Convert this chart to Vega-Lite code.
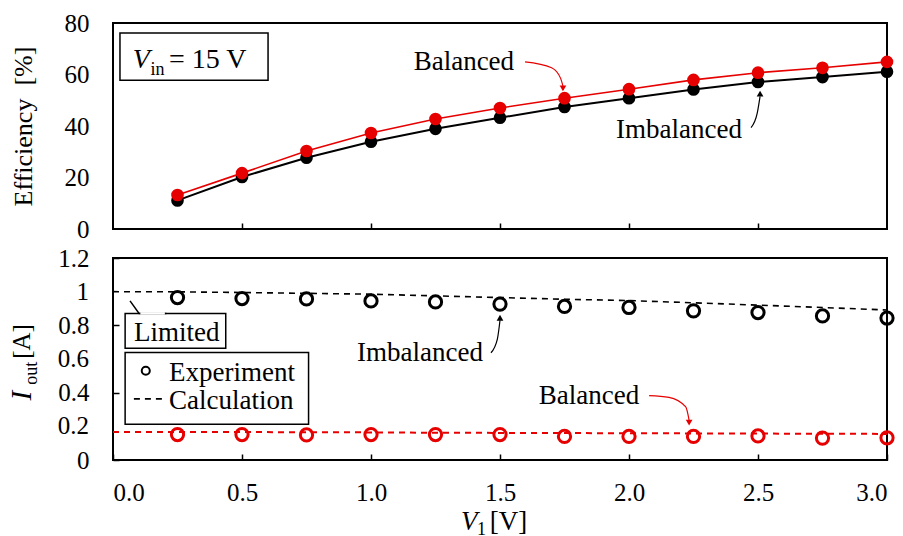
{
  "$schema": "https://vega.github.io/schema/vega-lite/v6.json",
  "padding": {"top": 10, "left": 6, "right": 5, "bottom": 0},
  "spacing": 2,
  "config": {
    "font": "Liberation Serif",
    "view": {"stroke": "black", "strokeWidth": 2},
    "axis": {
      "domain": false,
      "grid": false,
      "tickColor": "black",
      "tickSize": -6,
      "tickWidth": 1.5,
      "labelFont": "Liberation Serif",
      "labelFontSize": 25,
      "labelColor": "black",
      "labelOverlap": false,
      "titleFont": "Liberation Serif",
      "titleFontSize": 26,
      "titleFontWeight": "normal",
      "titleColor": "black"
    },
    "text": {"font": "Liberation Serif", "color": "black"}
  },
  "datasets": {
    "one": [{}],
    "eff": [
      {"v1": 0.25, "type": "Balanced", "eff": 13.2},
      {"v1": 0.5, "type": "Balanced", "eff": 21.7},
      {"v1": 0.75, "type": "Balanced", "eff": 30.3},
      {"v1": 1.0, "type": "Balanced", "eff": 37.3},
      {"v1": 1.25, "type": "Balanced", "eff": 42.7},
      {"v1": 1.5, "type": "Balanced", "eff": 47.0},
      {"v1": 1.75, "type": "Balanced", "eff": 50.8},
      {"v1": 2.0, "type": "Balanced", "eff": 54.3},
      {"v1": 2.25, "type": "Balanced", "eff": 57.9},
      {"v1": 2.5, "type": "Balanced", "eff": 60.7},
      {"v1": 2.75, "type": "Balanced", "eff": 62.6},
      {"v1": 3.0, "type": "Balanced", "eff": 64.9},
      {"v1": 0.25, "type": "Imbalanced", "eff": 11.1},
      {"v1": 0.5, "type": "Imbalanced", "eff": 20.2},
      {"v1": 0.75, "type": "Imbalanced", "eff": 27.7},
      {"v1": 1.0, "type": "Imbalanced", "eff": 33.9},
      {"v1": 1.25, "type": "Imbalanced", "eff": 38.9},
      {"v1": 1.5, "type": "Imbalanced", "eff": 43.2},
      {"v1": 1.75, "type": "Imbalanced", "eff": 47.4},
      {"v1": 2.0, "type": "Imbalanced", "eff": 50.8},
      {"v1": 2.25, "type": "Imbalanced", "eff": 54.2},
      {"v1": 2.5, "type": "Imbalanced", "eff": 57.1},
      {"v1": 2.75, "type": "Imbalanced", "eff": 59.0},
      {"v1": 3.0, "type": "Imbalanced", "eff": 61.1}
    ],
    "iexp": [
      {"v1": 0.25, "type": "Imbalanced", "iout": 0.965},
      {"v1": 0.5, "type": "Imbalanced", "iout": 0.959},
      {"v1": 0.75, "type": "Imbalanced", "iout": 0.957},
      {"v1": 1.0, "type": "Imbalanced", "iout": 0.945},
      {"v1": 1.25, "type": "Imbalanced", "iout": 0.939},
      {"v1": 1.5, "type": "Imbalanced", "iout": 0.926},
      {"v1": 1.75, "type": "Imbalanced", "iout": 0.912},
      {"v1": 2.0, "type": "Imbalanced", "iout": 0.906},
      {"v1": 2.25, "type": "Imbalanced", "iout": 0.886},
      {"v1": 2.5, "type": "Imbalanced", "iout": 0.876},
      {"v1": 2.75, "type": "Imbalanced", "iout": 0.856},
      {"v1": 3.0, "type": "Imbalanced", "iout": 0.843},
      {"v1": 0.25, "type": "Balanced", "iout": 0.151},
      {"v1": 0.5, "type": "Balanced", "iout": 0.151},
      {"v1": 0.75, "type": "Balanced", "iout": 0.149},
      {"v1": 1.0, "type": "Balanced", "iout": 0.151},
      {"v1": 1.25, "type": "Balanced", "iout": 0.151},
      {"v1": 1.5, "type": "Balanced", "iout": 0.151},
      {"v1": 1.75, "type": "Balanced", "iout": 0.140},
      {"v1": 2.0, "type": "Balanced", "iout": 0.140},
      {"v1": 2.25, "type": "Balanced", "iout": 0.140},
      {"v1": 2.5, "type": "Balanced", "iout": 0.143},
      {"v1": 2.75, "type": "Balanced", "iout": 0.130},
      {"v1": 3.0, "type": "Balanced", "iout": 0.132}
    ],
    "icalc": [
      {"v1": 0.0, "type": "Imbalanced", "iout": 1.0},
      {"v1": 0.25, "type": "Imbalanced", "iout": 0.999},
      {"v1": 0.5, "type": "Imbalanced", "iout": 0.995},
      {"v1": 0.75, "type": "Imbalanced", "iout": 0.99},
      {"v1": 1.0, "type": "Imbalanced", "iout": 0.985},
      {"v1": 1.25, "type": "Imbalanced", "iout": 0.975},
      {"v1": 1.5, "type": "Imbalanced", "iout": 0.965},
      {"v1": 1.75, "type": "Imbalanced", "iout": 0.955},
      {"v1": 2.0, "type": "Imbalanced", "iout": 0.947},
      {"v1": 2.25, "type": "Imbalanced", "iout": 0.934},
      {"v1": 2.5, "type": "Imbalanced", "iout": 0.92},
      {"v1": 2.75, "type": "Imbalanced", "iout": 0.906},
      {"v1": 3.0, "type": "Imbalanced", "iout": 0.891},
      {"v1": 0.0, "type": "Balanced", "iout": 0.167},
      {"v1": 0.25, "type": "Balanced", "iout": 0.167},
      {"v1": 0.5, "type": "Balanced", "iout": 0.166},
      {"v1": 0.75, "type": "Balanced", "iout": 0.165},
      {"v1": 1.0, "type": "Balanced", "iout": 0.164},
      {"v1": 1.25, "type": "Balanced", "iout": 0.162},
      {"v1": 1.5, "type": "Balanced", "iout": 0.161},
      {"v1": 1.75, "type": "Balanced", "iout": 0.16},
      {"v1": 2.0, "type": "Balanced", "iout": 0.159},
      {"v1": 2.25, "type": "Balanced", "iout": 0.158},
      {"v1": 2.5, "type": "Balanced", "iout": 0.157},
      {"v1": 2.75, "type": "Balanced", "iout": 0.156},
      {"v1": 3.0, "type": "Balanced", "iout": 0.155}
    ],
    "ylabExtra": [{"v": 0.2, "t": "0.2"}, {"v": 0.6, "t": "0.6"}, {"v": 1.0, "t": "1"}],
    "arrowTopBal": [{"x": 1.597, "y": 64.9}, {"x": 1.70, "y": 62.6}, {"x": 1.735, "y": 58.5}, {"x": 1.744, "y": 55.5}],
    "arrowTopImb": [{"x": 2.473, "y": 39.4}, {"x": 2.497, "y": 45.0}, {"x": 2.508, "y": 51.5}],
    "arrowBotImb": [{"x": 1.465, "y": 0.637}, {"x": 1.49, "y": 0.72}, {"x": 1.5, "y": 0.83}],
    "arrowBotBal": [{"x": 2.078, "y": 0.382}, {"x": 2.155, "y": 0.372}, {"x": 2.22, "y": 0.315}, {"x": 2.233, "y": 0.235}],
    "limitedTail": [{"x": 0.101, "y": 0.871}, {"x": 0.066, "y": 0.945}, {"x": 0.207, "y": 0.871}],
    "legendDash": [{"x": 0.081, "y": 0.363}, {"x": 0.19, "y": 0.363}]
  },
  "vconcat": [
    {
      "width": 774,
      "height": 206,
      "data": {"name": "one"},
      "layer": [
        {
          "data": {"name": "eff"},
          "transform": [{"filter": "datum.type === 'Imbalanced'"}],
          "mark": {"type": "line", "color": "black", "strokeWidth": 2, "point": {"filled": true, "size": 160, "color": "black"}},
          "encoding": {
            "x": {"field": "v1", "type": "quantitative", "scale": {"domain": [0, 3], "nice": false},
              "axis": {"values": [0.5, 1, 1.5, 2, 2.5], "labels": false, "title": null}},
            "y": {"field": "eff", "type": "quantitative", "scale": {"domain": [0, 80], "nice": false},
              "axis": {"values": [0, 20, 40, 60, 80], "title": "Efficiency\u00a0\u00a0[%]", "ticks": false, "labelOverlap": false, "labelPadding": 24, "titlePadding": 28}}
          }
        },
        {
          "data": {"name": "eff"},
          "transform": [{"filter": "datum.type === 'Balanced'"}],
          "mark": {"type": "line", "color": "#e60000", "strokeWidth": 1.6, "point": {"filled": true, "size": 160, "color": "#e60000"}},
          "encoding": {
            "x": {"field": "v1", "type": "quantitative"},
            "y": {"field": "eff", "type": "quantitative"}
          }
        },
        {
          "mark": {"type": "rect", "fill": "white", "stroke": "black", "strokeWidth": 1.5},
          "encoding": {
            "x": {"datum": 0.027, "type": "quantitative"},
            "x2": {"datum": 0.601},
            "y": {"datum": 76.1, "type": "quantitative"},
            "y2": {"datum": 57.8}
          }
        },
        {
          "mark": {"type": "text", "text": "V", "font": "Liberation Serif", "fontStyle": "italic", "fontSize": 28, "align": "left", "baseline": "alphabetic"},
          "encoding": {"x": {"datum": 0.077, "type": "quantitative"}, "y": {"datum": 62.6, "type": "quantitative"}}
        },
        {
          "mark": {"type": "text", "text": "in", "font": "Liberation Serif", "fontSize": 18, "align": "left", "baseline": "alphabetic"},
          "encoding": {"x": {"datum": 0.145, "type": "quantitative"}, "y": {"datum": 60.0, "type": "quantitative"}}
        },
        {
          "mark": {"type": "text", "text": "= 15 V", "font": "Liberation Serif", "fontSize": 28, "align": "left", "baseline": "alphabetic"},
          "encoding": {"x": {"datum": 0.217, "type": "quantitative"}, "y": {"datum": 62.6, "type": "quantitative"}}
        },
        {
          "mark": {"type": "text", "text": "Balanced", "font": "Liberation Serif", "fontSize": 27, "align": "center", "baseline": "alphabetic"},
          "encoding": {"x": {"datum": 1.36, "type": "quantitative"}, "y": {"datum": 61.7, "type": "quantitative"}}
        },
        {
          "mark": {"type": "text", "text": "Imbalanced", "font": "Liberation Serif", "fontSize": 27, "align": "center", "baseline": "alphabetic"},
          "encoding": {"x": {"datum": 2.194, "type": "quantitative"}, "y": {"datum": 35.5, "type": "quantitative"}}
        },
        {
          "data": {"name": "arrowTopBal"},
          "mark": {"type": "line", "color": "#e60000", "strokeWidth": 1.2, "interpolate": "monotone"},
          "encoding": {"x": {"field": "x", "type": "quantitative"}, "y": {"field": "y", "type": "quantitative"}, "order": {"field": "x"}}
        },
        {
          "mark": {"type": "point", "shape": "triangle-down", "filled": true, "color": "#e60000", "size": 45, "opacity": 1},
          "encoding": {"x": {"datum": 1.744, "type": "quantitative"}, "y": {"datum": 54.6, "type": "quantitative"}}
        },
        {
          "data": {"name": "arrowTopImb"},
          "mark": {"type": "line", "color": "black", "strokeWidth": 1.2, "interpolate": "monotone"},
          "encoding": {"x": {"field": "x", "type": "quantitative"}, "y": {"field": "y", "type": "quantitative"}, "order": {"field": "y"}}
        },
        {
          "mark": {"type": "point", "shape": "triangle-up", "filled": true, "color": "black", "size": 45, "opacity": 1},
          "encoding": {"x": {"datum": 2.508, "type": "quantitative"}, "y": {"datum": 52.6, "type": "quantitative"}}
        }
      ]
    },
    {
      "width": 774,
      "height": 202,
      "data": {"name": "one"},
      "layer": [
        {
          "data": {"name": "icalc"},
          "transform": [{"filter": "datum.type === 'Imbalanced'"}],
          "mark": {"type": "line", "color": "black", "strokeWidth": 1.6, "strokeDash": [6, 5]},
          "encoding": {
            "x": {"field": "v1", "type": "quantitative", "scale": {"domain": [0, 3], "nice": false},
              "axis": {"values": [0, 0.5, 1, 1.5, 2, 2.5, 3], "format": ".1f", "title": null, "labelOverlap": false, "labelPadding": 26}},
            "y": {"field": "iout", "type": "quantitative", "scale": {"domain": [0, 1.2], "nice": false},
              "axis": {"values": [0, 0.2, 0.4, 0.6, 0.8, 1, 1.2], "format": "~g", "title": null, "labelOverlap": false, "labelPadding": 30}}
          }
        },
        {
          "data": {"name": "ylabExtra"},
          "mark": {"type": "text", "font": "Liberation Serif", "fontSize": 25, "align": "right", "baseline": "middle"},
          "encoding": {
            "x": {"datum": -0.093, "type": "quantitative"},
            "y": {"field": "v", "type": "quantitative"},
            "text": {"field": "t"}
          }
        },
        {
          "data": {"name": "icalc"},
          "transform": [{"filter": "datum.type === 'Balanced'"}],
          "mark": {"type": "line", "color": "#e60000", "strokeWidth": 2, "strokeDash": [6, 5]},
          "encoding": {
            "x": {"field": "v1", "type": "quantitative"},
            "y": {"field": "iout", "type": "quantitative"}
          }
        },
        {
          "data": {"name": "iexp"},
          "mark": {"type": "point", "filled": false, "size": 150, "strokeWidth": 3, "opacity": 1},
          "encoding": {
            "x": {"field": "v1", "type": "quantitative"},
            "y": {"field": "iout", "type": "quantitative"},
            "color": {"field": "type", "type": "nominal", "scale": {"domain": ["Imbalanced", "Balanced"], "range": ["black", "#e60000"]}, "legend": null}
          }
        },
        {
          "mark": {"type": "rect", "fill": "white", "stroke": "black", "strokeWidth": 1.5},
          "encoding": {
            "x": {"datum": 0.047, "type": "quantitative"},
            "x2": {"datum": 0.437},
            "y": {"datum": 0.871, "type": "quantitative"},
            "y2": {"datum": 0.664}
          }
        },
        {
          "data": {"name": "limitedTail"},
          "mark": {"type": "line", "color": "black", "strokeWidth": 1.5},
          "encoding": {"x": {"field": "x", "type": "quantitative"}, "y": {"field": "y", "type": "quantitative"}, "order": {"field": "y", "sort": "descending"}}
        },
        {
          "mark": {"type": "rule", "color": "white", "strokeWidth": 2.5},
          "encoding": {
            "x": {"datum": 0.106, "type": "quantitative"},
            "x2": {"datum": 0.201},
            "y": {"datum": 0.871, "type": "quantitative"}
          }
        },
        {
          "mark": {"type": "text", "text": "Limited", "font": "Liberation Serif", "fontSize": 27, "align": "left", "baseline": "alphabetic"},
          "encoding": {"x": {"datum": 0.081, "type": "quantitative"}, "y": {"datum": 0.708, "type": "quantitative"}}
        },
        {
          "mark": {"type": "rect", "fill": "white", "stroke": "black", "strokeWidth": 1.5},
          "encoding": {
            "x": {"datum": 0.047, "type": "quantitative"},
            "x2": {"datum": 0.758},
            "y": {"datum": 0.639, "type": "quantitative"},
            "y2": {"datum": 0.213}
          }
        },
        {
          "mark": {"type": "point", "filled": false, "color": "black", "size": 65, "strokeWidth": 2, "opacity": 1},
          "encoding": {"x": {"datum": 0.127, "type": "quantitative"}, "y": {"datum": 0.53, "type": "quantitative"}}
        },
        {
          "data": {"name": "legendDash"},
          "mark": {"type": "line", "color": "black", "strokeWidth": 1.6, "strokeDash": [6, 5]},
          "encoding": {"x": {"field": "x", "type": "quantitative"}, "y": {"field": "y", "type": "quantitative"}}
        },
        {
          "mark": {"type": "text", "text": "Experiment", "font": "Liberation Serif", "fontSize": 27, "align": "left", "baseline": "alphabetic"},
          "encoding": {"x": {"datum": 0.217, "type": "quantitative"}, "y": {"datum": 0.471, "type": "quantitative"}}
        },
        {
          "mark": {"type": "text", "text": "Calculation", "font": "Liberation Serif", "fontSize": 27, "align": "left", "baseline": "alphabetic"},
          "encoding": {"x": {"datum": 0.217, "type": "quantitative"}, "y": {"datum": 0.303, "type": "quantitative"}}
        },
        {
          "mark": {"type": "text", "text": "Imbalanced", "font": "Liberation Serif", "fontSize": 27, "align": "center", "baseline": "alphabetic"},
          "encoding": {"x": {"datum": 1.19, "type": "quantitative"}, "y": {"datum": 0.59, "type": "quantitative"}}
        },
        {
          "mark": {"type": "text", "text": "Balanced", "font": "Liberation Serif", "fontSize": 27, "align": "center", "baseline": "alphabetic"},
          "encoding": {"x": {"datum": 1.845, "type": "quantitative"}, "y": {"datum": 0.333, "type": "quantitative"}}
        },
        {
          "data": {"name": "arrowBotImb"},
          "mark": {"type": "line", "color": "black", "strokeWidth": 1.2, "interpolate": "monotone"},
          "encoding": {"x": {"field": "x", "type": "quantitative"}, "y": {"field": "y", "type": "quantitative"}, "order": {"field": "y"}}
        },
        {
          "mark": {"type": "point", "shape": "triangle-up", "filled": true, "color": "black", "size": 45, "opacity": 1},
          "encoding": {"x": {"datum": 1.5, "type": "quantitative"}, "y": {"datum": 0.845, "type": "quantitative"}}
        },
        {
          "data": {"name": "arrowBotBal"},
          "mark": {"type": "line", "color": "#e60000", "strokeWidth": 1.2, "interpolate": "monotone"},
          "encoding": {"x": {"field": "x", "type": "quantitative"}, "y": {"field": "y", "type": "quantitative"}, "order": {"field": "x"}}
        },
        {
          "mark": {"type": "point", "shape": "triangle-down", "filled": true, "color": "#e60000", "size": 45, "opacity": 1},
          "encoding": {"x": {"datum": 2.233, "type": "quantitative"}, "y": {"datum": 0.222, "type": "quantitative"}}
        },
        {
          "mark": {"type": "text", "text": "I", "font": "Liberation Serif", "fontStyle": "italic", "fontSize": 29, "angle": 270, "align": "left", "baseline": "alphabetic"},
          "encoding": {"x": {"datum": -0.318, "type": "quantitative"}, "y": {"datum": 0.353, "type": "quantitative"}}
        },
        {
          "mark": {"type": "text", "text": "out", "font": "Liberation Serif", "fontSize": 18, "angle": 270, "align": "left", "baseline": "alphabetic"},
          "encoding": {"x": {"datum": -0.296, "type": "quantitative"}, "y": {"datum": 0.447, "type": "quantitative"}}
        },
        {
          "mark": {"type": "text", "text": "[A]", "font": "Liberation Serif", "fontSize": 25, "angle": 270, "align": "left", "baseline": "alphabetic"},
          "encoding": {"x": {"datum": -0.322, "type": "quantitative"}, "y": {"datum": 0.601, "type": "quantitative"}}
        },
        {
          "mark": {"type": "text", "text": "V", "font": "Liberation Serif", "fontStyle": "italic", "fontSize": 27, "align": "left", "baseline": "alphabetic"},
          "encoding": {"x": {"datum": 1.349, "type": "quantitative"}, "y": {"datum": -0.415, "type": "quantitative"}}
        },
        {
          "mark": {"type": "text", "text": "1", "font": "Liberation Serif", "fontSize": 18, "align": "left", "baseline": "alphabetic"},
          "encoding": {"x": {"datum": 1.411, "type": "quantitative"}, "y": {"datum": -0.445, "type": "quantitative"}}
        },
        {
          "mark": {"type": "text", "text": "[V]", "font": "Liberation Serif", "fontSize": 27, "align": "left", "baseline": "alphabetic"},
          "encoding": {"x": {"datum": 1.46, "type": "quantitative"}, "y": {"datum": -0.415, "type": "quantitative"}}
        }
      ]
    }
  ]
}
